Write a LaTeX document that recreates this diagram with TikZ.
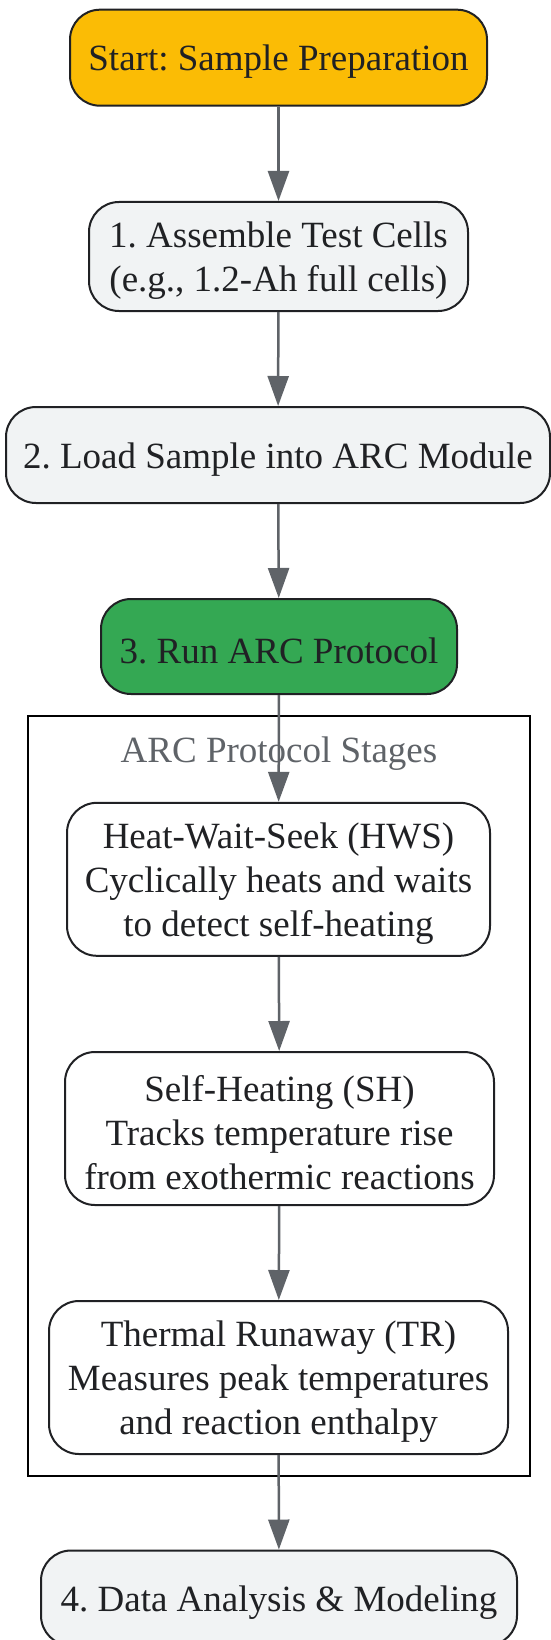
\documentclass[tikz,border=0pt]{standalone}
\usepackage{fontspec}
\setmainfont{Liberation Serif}
\usetikzlibrary{arrows.meta}
\definecolor{startY}{HTML}{FBBC05}
\definecolor{boxG}{HTML}{F1F3F4}
\definecolor{runG}{HTML}{34A853}
\definecolor{edgeC}{HTML}{5F6368}
\definecolor{lineC}{HTML}{202124}
\frenchspacing
\newcommand\mytopstrut{\rule{0pt}{34pt}}
\begin{document}
\begin{tikzpicture}[x=1pt,y=-1pt,
  box/.style={draw=lineC,line width=2pt,rounded corners=30pt,align=center,inner sep=0pt,
    font=\fontsize{37}{44}\selectfont\frenchspacing,text=lineC},
  arr/.style={draw=edgeC,line width=2.5pt,-{Triangle[length=30pt,width=21pt]}},
  cluster/.style={draw=black,line width=2.5pt,fill=white,inner sep=0pt}]
\fill[white] (0,0) rectangle (551,1640);
\useasboundingbox (0,0) rectangle (551,1640);
\node[box,fill=startY,minimum width=417pt,minimum height=96pt] (start) at (278.5,57.7) {\mytopstrut Start: Sample Preparation};
\node[box,fill=boxG,minimum width=379pt,minimum height=109pt] (b1) at (278.5,256.5) {\mytopstrut 1. Assemble Test Cells\\(e.g., 1.2-Ah full cells)};
\node[box,fill=boxG,minimum width=544pt,minimum height=96pt] (b2) at (278,455) {\mytopstrut 2. Load Sample into ARC Module};
\node[box,fill=runG,minimum width=356pt,minimum height=95pt] (b3) at (279,646.5) {\mytopstrut 3. Run ARC Protocol};
\node[cluster,minimum width=502pt,minimum height=760pt] (cl) at (279,1096) {};
\node[text=edgeC,font=\fontsize{37}{44}\selectfont,inner sep=0pt] (cltitle) at (279,754) {ARC Protocol Stages};
\node[box,fill=white,minimum width=423pt,minimum height=153pt] (hws) at (278.5,879.3) {\mytopstrut Heat-Wait-Seek (HWS)\\Cyclically heats and waits\\to detect self-heating};
\node[box,fill=white,minimum width=429pt,minimum height=153pt] (sh) at (279.5,1128.5) {\mytopstrut Self-Heating (SH)\\Tracks temperature rise\\from exothermic reactions};
\node[box,fill=white,minimum width=459pt,minimum height=153pt] (tr) at (278.5,1377.5) {\mytopstrut Thermal Runaway (TR)\\Measures peak temperatures\\and reaction enthalpy};
\node[box,fill=boxG,minimum width=476pt,minimum height=95pt] (b4) at (279,1598) {\mytopstrut 4. Data Analysis \& Modeling};
\draw[arr] (start) -- (b1);
\draw[arr] (b1) -- (b2);
\draw[arr] (b2) -- (b3);
\draw[arr] (b3) -- (hws);
\draw[arr] (hws) -- (sh);
\draw[arr] (sh) -- (tr);
\draw[arr] (tr) -- (b4);
\end{tikzpicture}
\end{document}
